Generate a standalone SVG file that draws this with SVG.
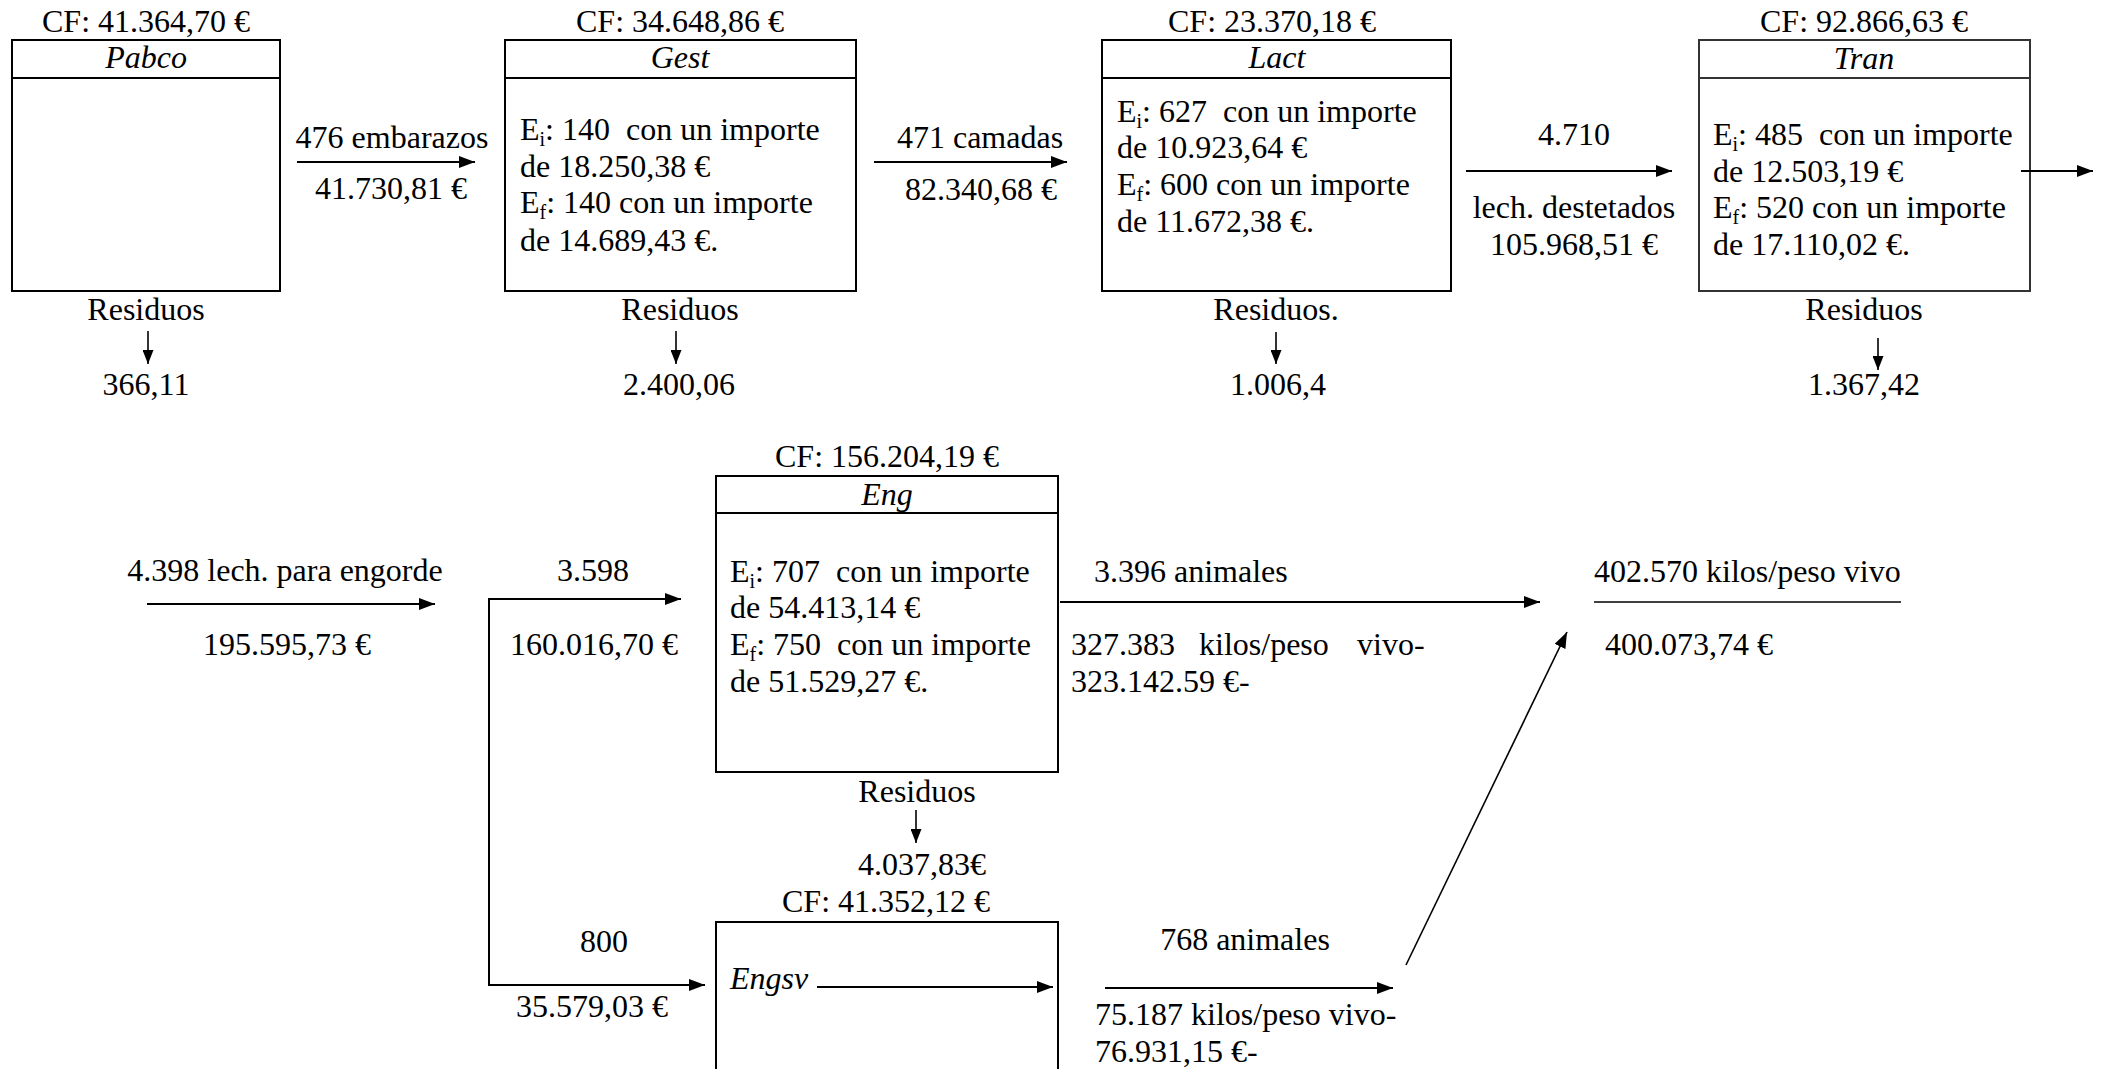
<svg xmlns="http://www.w3.org/2000/svg" width="2102" height="1069" viewBox="0 0 2102 1069">
<style>
text{font-family:"Liberation Serif","Times New Roman",serif;font-size:32px;fill:#000;white-space:pre}
.c{text-anchor:middle}
.it{font-style:italic}
.sub{font-size:20px}
.box{fill:#fff;stroke:#000;stroke-width:2}
.ln{stroke:#000;stroke-width:2;fill:none}
.lt{stroke:#000;stroke-width:1.6;fill:none}
</style>
<defs>
<marker id="ah" markerWidth="16" markerHeight="12" refX="16" refY="6" orient="auto" markerUnits="userSpaceOnUse"><path d="M0,0 L16,6 L0,12 z" fill="#000"/></marker>
<marker id="ahs" markerWidth="14" markerHeight="11" refX="14" refY="5.5" orient="auto" markerUnits="userSpaceOnUse"><path d="M0,0 L14,5.5 L0,11 z" fill="#000"/></marker>
</defs>
<rect width="2102" height="1069" fill="#fff"/>

<g id="node-pabco">
<text class="c" x="146" y="32">CF: 41.364,70 €</text>
<rect class="box" x="12" y="40" width="268" height="251"/>
<line class="ln" x1="12" y1="78" x2="280" y2="78"/>
<text class="c it" x="146" y="68">Pabco</text>
<text class="c" x="146" y="320">Residuos</text>
<text class="c" x="146" y="395">366,11</text>
</g>

<g id="node-gest">
<text class="c" x="680" y="32">CF: 34.648,86 €</text>
<rect class="box" x="505" y="40" width="351" height="251"/>
<line class="ln" x1="505" y1="78" x2="856" y2="78"/>
<text class="c it" x="680" y="68">Gest</text>
<text x="520" y="140">E<tspan class="sub" dy="6">i</tspan><tspan dy="-6">: 140  con un importe</tspan></text>
<text x="520" y="177">de 18.250,38 €</text>
<text x="520" y="213">E<tspan class="sub" dy="6">f</tspan><tspan dy="-6">: 140 con un importe</tspan></text>
<text x="520" y="251">de 14.689,43 €.</text>
<text class="c" x="680" y="320">Residuos</text>
<text class="c" x="679" y="395">2.400,06</text>
</g>

<g id="node-lact">
<text class="c" x="1272" y="32">CF: 23.370,18 €</text>
<rect class="box" x="1102" y="40" width="349" height="251"/>
<line class="ln" x1="1102" y1="78" x2="1451" y2="78"/>
<text class="c it" x="1277" y="68">Lact</text>
<text x="1117" y="122">E<tspan class="sub" dy="6">i</tspan><tspan dy="-6">: 627  con un importe</tspan></text>
<text x="1117" y="158">de 10.923,64 €</text>
<text x="1117" y="195">E<tspan class="sub" dy="6">f</tspan><tspan dy="-6">: 600 con un importe</tspan></text>
<text x="1117" y="232">de 11.672,38 €.</text>
<text class="c" x="1276" y="320">Residuos.</text>
<text class="c" x="1278" y="395">1.006,4</text>
</g>

<g id="node-tran">
<text class="c" x="1864" y="32">CF: 92.866,63 €</text>
<rect class="box" x="1699" y="40" width="331" height="251" style="stroke:#333"/>
<line class="ln" x1="1699" y1="78" x2="2030" y2="78" style="stroke:#333"/>
<text class="c it" x="1864" y="69">Tran</text>
<text x="1713" y="145">E<tspan class="sub" dy="6">i</tspan><tspan dy="-6">: 485  con un importe</tspan></text>
<text x="1713" y="182">de 12.503,19 €</text>
<text x="1713" y="218">E<tspan class="sub" dy="6">f</tspan><tspan dy="-6">: 520 con un importe</tspan></text>
<text x="1713" y="255">de 17.110,02 €.</text>
<text class="c" x="1864" y="320">Residuos</text>
<text class="c" x="1864" y="395">1.367,42</text>
</g>

<g id="node-eng">
<text class="c" x="887" y="467">CF: 156.204,19 €</text>
<rect class="box" x="716" y="476" width="342" height="296"/>
<line class="ln" x1="716" y1="513" x2="1058" y2="513"/>
<text class="c it" x="887" y="505">Eng</text>
<text x="730" y="582">E<tspan class="sub" dy="6">i</tspan><tspan dy="-6">: 707  con un importe</tspan></text>
<text x="730" y="618">de 54.413,14 €</text>
<text x="730" y="655">E<tspan class="sub" dy="6">f</tspan><tspan dy="-6">: 750  con un importe</tspan></text>
<text x="730" y="692">de 51.529,27 €.</text>
<text class="c" x="917" y="802">Residuos</text>
<text class="c" x="922" y="875">4.037,83€</text>
</g>

<g id="node-engsv">
<text class="c" x="886" y="912">CF: 41.352,12 €</text>
<rect class="box" x="716" y="922" width="342" height="170"/>
<text class="it" x="730" y="989">Engsv</text>
</g>

<g id="node-total">
<text x="1594" y="582">402.570 kilos/peso vivo</text>
<line class="lt" x1="1594" y1="602" x2="1901" y2="602"/>
<text x="1605" y="655">400.073,74 €</text>
</g>

<g id="connectors">
<line class="ln" x1="297" y1="162" x2="475" y2="162" marker-end="url(#ah)"/>
<line class="ln" x1="874" y1="162" x2="1067" y2="162" marker-end="url(#ah)"/>
<line class="ln" x1="1466" y1="171" x2="1672" y2="171" marker-end="url(#ah)"/>
<line class="ln" x1="2021" y1="171" x2="2093" y2="171" marker-end="url(#ah)"/>
<line class="lt" x1="148" y1="331" x2="148" y2="364" marker-end="url(#ahs)"/>
<line class="lt" x1="676" y1="331" x2="676" y2="364" marker-end="url(#ahs)"/>
<line class="lt" x1="1276" y1="332" x2="1276" y2="364" marker-end="url(#ahs)"/>
<line class="lt" x1="1878" y1="338" x2="1878" y2="370" marker-end="url(#ahs)"/>
<line class="ln" x1="147" y1="604" x2="435" y2="604" marker-end="url(#ah)"/>
<line class="ln" x1="489" y1="599" x2="489" y2="985"/>
<line class="ln" x1="488" y1="599" x2="681" y2="599" marker-end="url(#ah)"/>
<line class="ln" x1="488" y1="985" x2="705" y2="985" marker-end="url(#ah)"/>
<line class="lt" x1="916" y1="810" x2="916" y2="843" marker-end="url(#ahs)"/>
<line class="ln" x1="817" y1="987" x2="1053" y2="987" marker-end="url(#ah)"/>
<line class="ln" x1="1060" y1="602" x2="1540" y2="602" marker-end="url(#ah)"/>
<line class="ln" x1="1105" y1="988" x2="1393" y2="988" marker-end="url(#ah)"/>
<line class="lt" x1="1406" y1="965" x2="1567" y2="632" marker-end="url(#ah)"/>
</g>

<g id="connector-labels">
<text class="c" x="392" y="148">476 embarazos</text>
<text class="c" x="391" y="199">41.730,81 €</text>
<text class="c" x="980" y="148">471 camadas</text>
<text class="c" x="981" y="200">82.340,68 €</text>
<text class="c" x="1574" y="145">4.710</text>
<text class="c" x="1574" y="218">lech. destetados</text>
<text class="c" x="1574" y="255">105.968,51 €</text>
<text class="c" x="285" y="581">4.398 lech. para engorde</text>
<text class="c" x="287" y="655">195.595,73 €</text>
<text class="c" x="593" y="581">3.598</text>
<text class="c" x="594" y="655">160.016,70 €</text>
<text class="c" x="604" y="952">800</text>
<text class="c" x="592" y="1017">35.579,03 €</text>
<text x="1094" y="582">3.396 animales</text>
<text y="655"><tspan x="1071">327.383</tspan><tspan x="1199">kilos/peso</tspan><tspan x="1357">vivo-</tspan></text>
<text x="1071" y="692">323.142.59 €-</text>
<text class="c" x="1245" y="950">768 animales</text>
<text x="1095" y="1025">75.187 kilos/peso vivo-</text>
<text x="1095" y="1062">76.931,15 €-</text>
</g>
</svg>
